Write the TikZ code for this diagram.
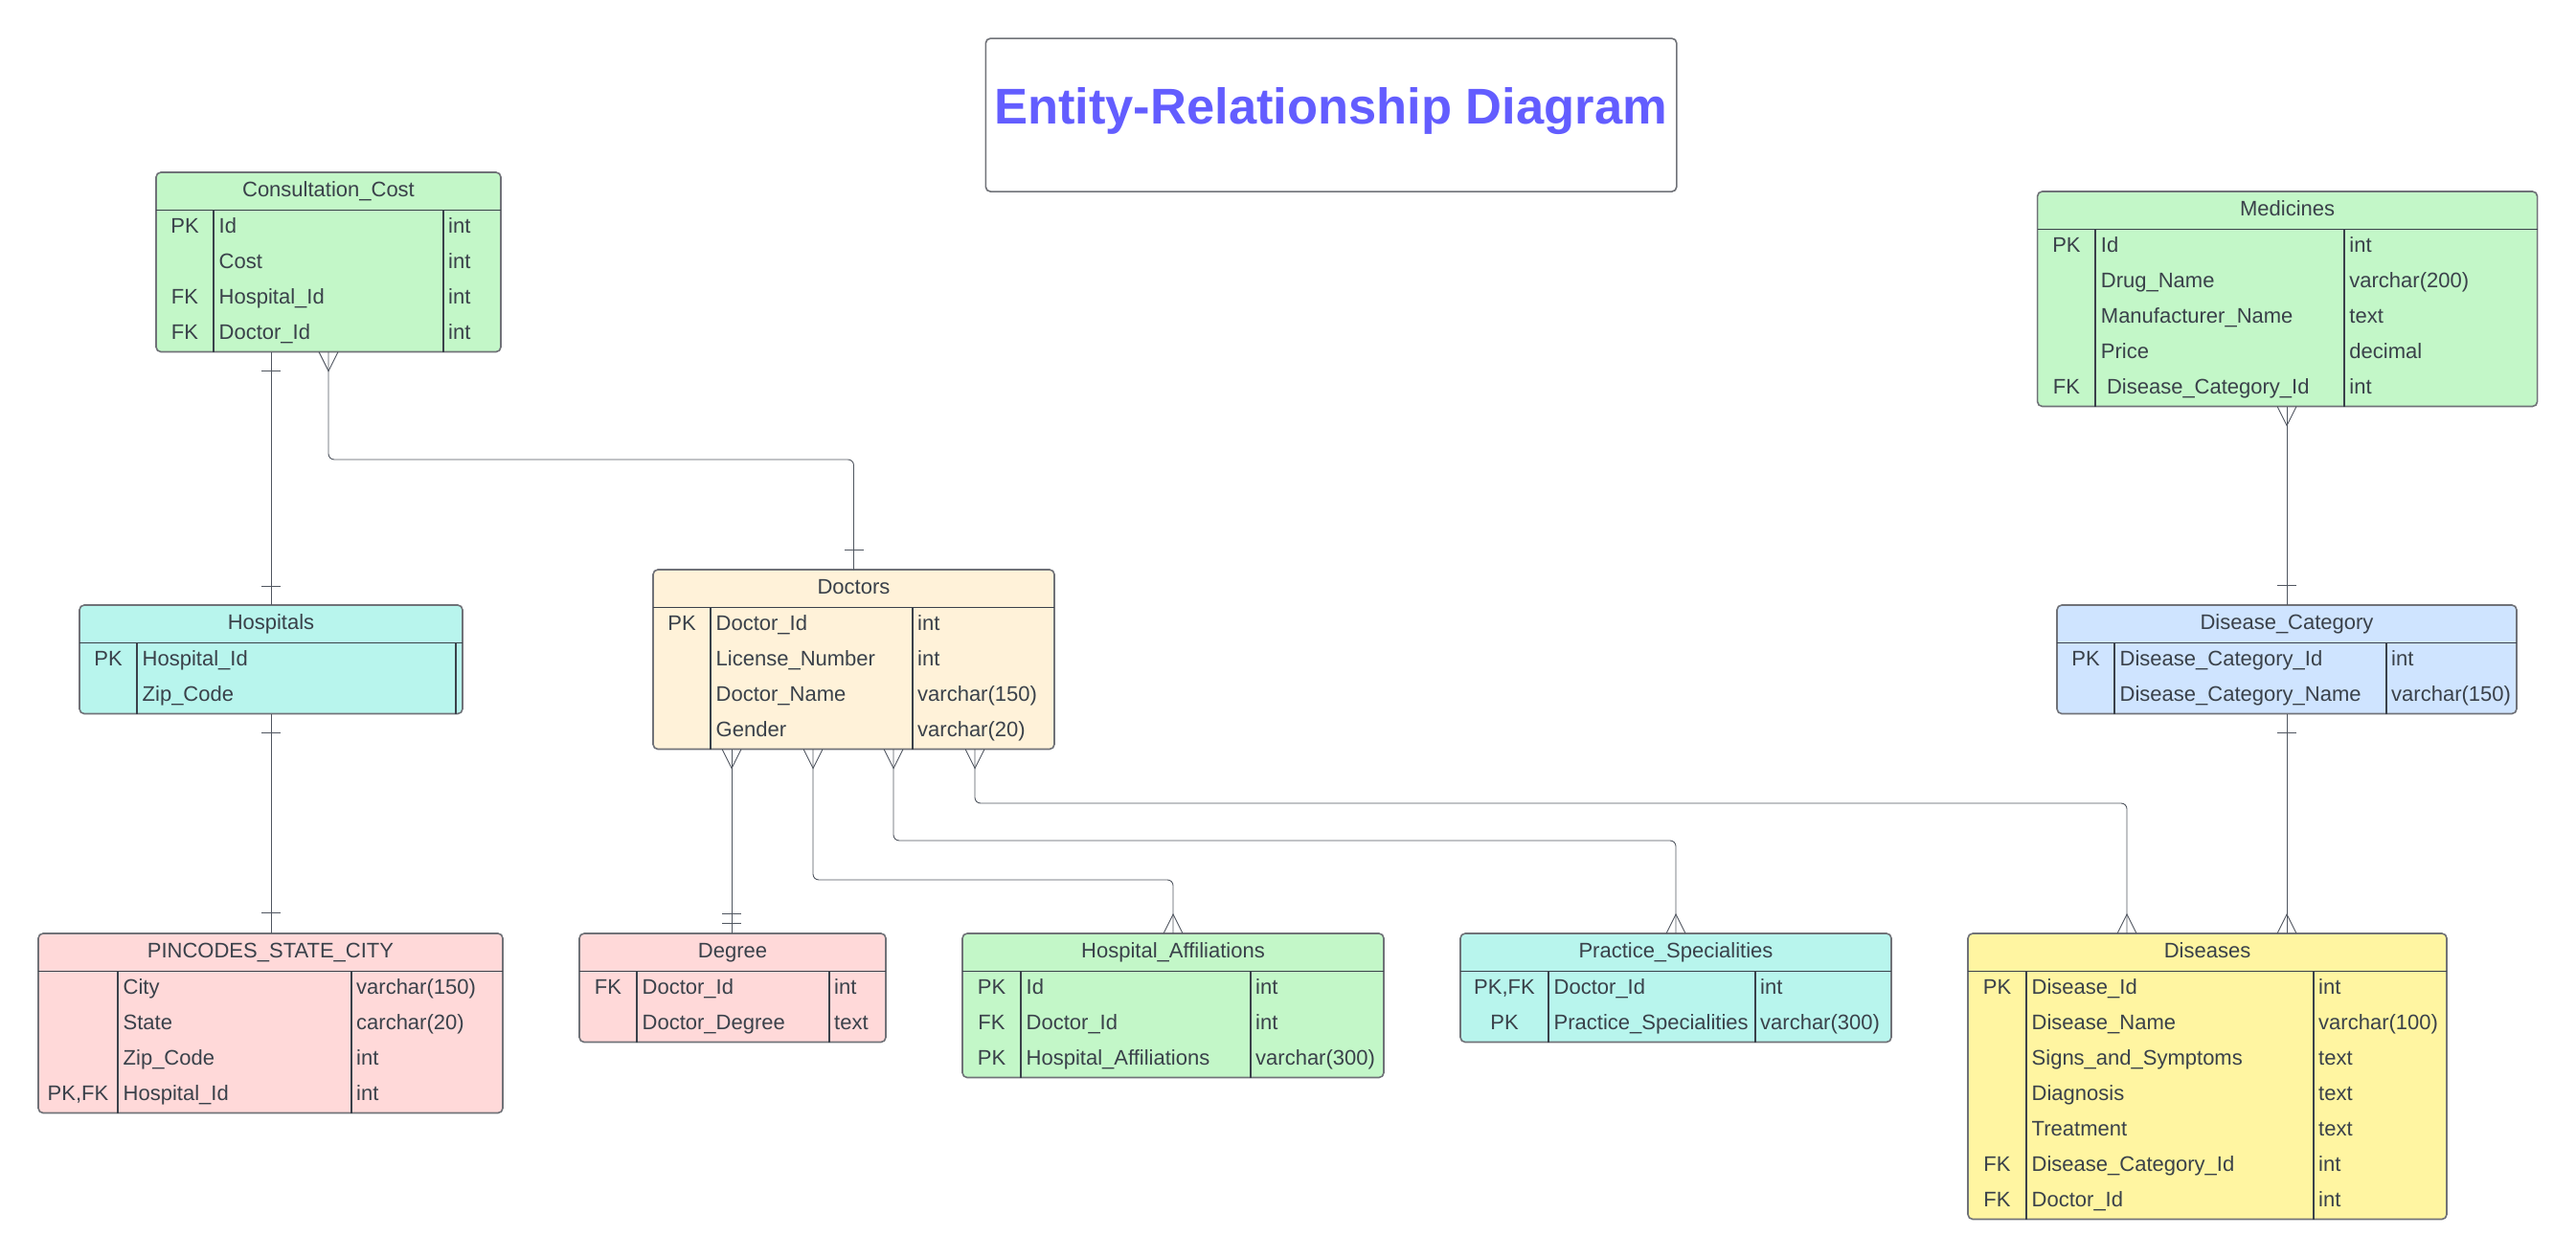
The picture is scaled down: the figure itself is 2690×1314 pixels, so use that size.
\documentclass[tikz,border=0pt]{standalone}
\usepackage{fontspec}
\setmainfont{Liberation Sans}
\usetikzlibrary{calc}
\definecolor{cgreen}{RGB}{195,247,200}
\definecolor{cteal}{RGB}{184,245,237}
\definecolor{ccream}{RGB}{255,242,217}
\definecolor{cpink}{RGB}{255,217,217}
\definecolor{cblue}{RGB}{207,228,255}
\definecolor{cyellow}{RGB}{255,245,161}
\definecolor{boxborder}{RGB}{112,114,120}
\definecolor{inkline}{RGB}{58,65,74}
\definecolor{inktext}{RGB}{58,65,74}
\definecolor{connline}{RGB}{80,86,96}
\definecolor{titleblue}{RGB}{99,93,255}
\tikzset{
  ebox/.style={draw=boxborder, line width=1.6pt, rounded corners=5pt, inner sep=0pt, outer sep=0pt},
  inl/.style={draw=inkline, line width=1.5pt},
  etxt/.style={text=inktext, font=\fontsize{22}{26}\selectfont, inner sep=0pt},
  conn/.style={draw=connline, line width=0.9pt},
}
\newcommand{\erentity}[9]{%
  \def\curL{#3}\def\curT{#4}\def\curR{#5}\def\curA{#6}\def\curB{#7}\def\curid{#1}%
  \pgfmathsetmacro\curBot{#4+39.5+37*#8}%
  \pgfmathsetmacro\curH{#4+39.5}%
  \node[ebox, fill=#2, minimum width={#5-#3}, minimum height={\curBot-#4}, anchor=north west] (#1) at (#3,#4) {};
  \draw[inl] (#3,\curH) -- (#5,\curH) (#6,\curH) -- (#6,\curBot) (#7,\curH) -- (#7,\curBot);
  \node[etxt, anchor=base] (#1-title) at ({(#3+#5)/2},{#4+19.75+6}) {#9};
}
\newcommand{\errows}[1]{%
  \foreach \k/\n/\t [count=\i] in {#1} {%
    \pgfmathsetmacro\ry{\curT+39.5+37*(\i-0.5)+5.5}%
    \node[etxt, anchor=base] (\curid-k\i) at ({(\curL+\curA)/2},\ry) {\k};
    \node[etxt, anchor=base west] (\curid-n\i) at ({\curA+5.5},\ry) {\n};
    \node[etxt, anchor=base west] (\curid-t\i) at ({\curB+5},\ry) {\t};
  }%
}
\newcommand{\ercrowdn}[1]{\draw[conn] ($(#1)+(-10,0)$) -- ($(#1)+(0,20)$) -- ($(#1)+(10,0)$);}
\newcommand{\ercrowup}[1]{\draw[conn] ($(#1)+(-10,0)$) -- ($(#1)+(0,-20)$) -- ($(#1)+(10,0)$);}
\newcommand{\erbar}[2]{\draw[conn] ($(#1)+(-10,#2)$) -- ($(#1)+(10,#2)$);}
\begin{document}
\begin{tikzpicture}[x=1pt,y=-1pt]
\fill[white] (0,0) rectangle (2690,1314);
\useasboundingbox (0,0) rectangle (2690,1314);

\node[draw=boxborder, line width=1.6pt, rounded corners=5pt, fill=white, minimum width=721.5, minimum height=160, anchor=north west, inner sep=0pt] (titlebox) at (1028.5,39.3) {};
\node[anchor=base, inner sep=0pt, text=titleblue, font=\bfseries\fontsize{52.5}{60}\selectfont] (title) at (1389.5,129.3) {Entity-Relationship Diagram};

\erentity{cc}{cgreen}{163}{180}{523}{223}{463}{4}{Consultation\_Cost}
\errows{PK/Id/int, {}/Cost/int, FK/Hospital\_Id/int, FK/Doctor\_Id/int}

\erentity{med}{cgreen}{2127.6}{200}{2649.6}{2188.2}{2448.2}{5}{Medicines}
\errows{PK/Id/int, {}/Drug\_Name/varchar(200), {}/Manufacturer\_Name/text, {}/Price/decimal, FK/\ Disease\_Category\_Id/int}

\erentity{hosp}{cteal}{83}{632}{483}{143}{476}{2}{Hospitals}
\errows{PK/Hospital\_Id/{}, {}/Zip\_Code/{}}

\erentity{doc}{ccream}{682}{595}{1101}{742}{953}{4}{Doctors}
\errows{PK/Doctor\_Id/int, {}/License\_Number/int, {}/Doctor\_Name/varchar(150), {}/Gender/varchar(20)}

\erentity{dcat}{cblue}{2148}{632}{2628}{2208}{2492}{2}{Disease\_Category}
\errows{PK/Disease\_Category\_Id/int, {}/Disease\_Category\_Name/varchar(150)}

\erentity{pin}{cpink}{40}{975}{525}{123}{367}{4}{PINCODES\_STATE\_CITY}
\errows{{}/City/varchar(150), {}/State/carchar(20), {}/Zip\_Code/int, {PK,FK}/Hospital\_Id/int}

\erentity{deg}{cpink}{605}{975}{925}{665}{866}{2}{Degree}
\errows{FK/Doctor\_Id/int, {}/Doctor\_Degree/text}

\erentity{haff}{cgreen}{1005}{975}{1445}{1066}{1306}{3}{Hospital\_Affiliations}
\errows{PK/Id/int, FK/Doctor\_Id/int, PK/Hospital\_Affiliations/varchar(300)}

\erentity{prac}{cteal}{1525}{975}{1975}{1617}{1833}{2}{Practice\_Specialities}
\errows{{PK,FK}/Doctor\_Id/int, PK/Practice\_Specialities/varchar(300)}

\erentity{dis}{cyellow}{2055}{975}{2555}{2116}{2416}{7}{Diseases}
\errows{PK/Disease\_Id/int, {}/Disease\_Name/varchar(100), {}/Signs\_and\_Symptoms/text, {}/Diagnosis/text, {}/Treatment/text, FK/Disease\_Category\_Id/int, FK/Doctor\_Id/int}

% Consultation_Cost -- Hospitals
\coordinate (c1a) at (hosp.north |- cc.south);
\draw[conn] (c1a) -- (hosp.north);
\erbar{c1a}{20}
\erbar{hosp.north}{-20}

% Consultation_Cost -- Doctors
\draw[conn, rounded corners=6pt] (cc.south) |- ($(doc.north)+(0,-115)$) -- (doc.north);
\ercrowdn{cc.south}
\erbar{doc.north}{-21}

% Hospitals -- PINCODES
\coordinate (c3b) at (hosp.south |- pin.north);
\draw[conn] (hosp.south) -- (c3b);
\erbar{hosp.south}{20}
\erbar{c3b}{-22}

% Doctors -- Degree
\coordinate (dd1) at ($(doc.south west)+(82,0)$);
\coordinate (dg1) at (dd1 |- deg.north);
\draw[conn] (dd1) -- (dg1);
\ercrowdn{dd1}
\erbar{dg1}{-11}
\erbar{dg1}{-21}

% Doctors -- Hospital_Affiliations
\coordinate (dd2) at ($(doc.south west)+(167,0)$);
\draw[conn, rounded corners=6pt] (dd2) |- ($(haff.north)+(0,-56)$) -- (haff.north);
\ercrowdn{dd2}
\ercrowup{haff.north}

% Doctors -- Practice_Specialities
\coordinate (dd3) at ($(doc.south west)+(251,0)$);
\draw[conn, rounded corners=6pt] (dd3) |- ($(prac.north)+(0,-97)$) -- (prac.north);
\ercrowdn{dd3}
\ercrowup{prac.north}

% Doctors -- Diseases
\coordinate (dd4) at ($(doc.south west)+(336,0)$);
\coordinate (de1) at ($(dis.north west)+(166,0)$);
\draw[conn, rounded corners=6pt] (dd4) |- ($(de1)+(0,-136)$) -- (de1);
\ercrowdn{dd4}
\ercrowup{de1}

% Medicines -- Disease_Category
\coordinate (m1) at (dcat.north |- med.south);
\draw[conn] (m1) -- (dcat.north);
\ercrowdn{m1}
\erbar{dcat.north}{-21}

% Disease_Category -- Diseases
\coordinate (de2) at (dcat.south |- dis.north);
\draw[conn] (dcat.south) -- (de2);
\erbar{dcat.south}{20}
\ercrowup{de2}
\end{tikzpicture}
\end{document}
